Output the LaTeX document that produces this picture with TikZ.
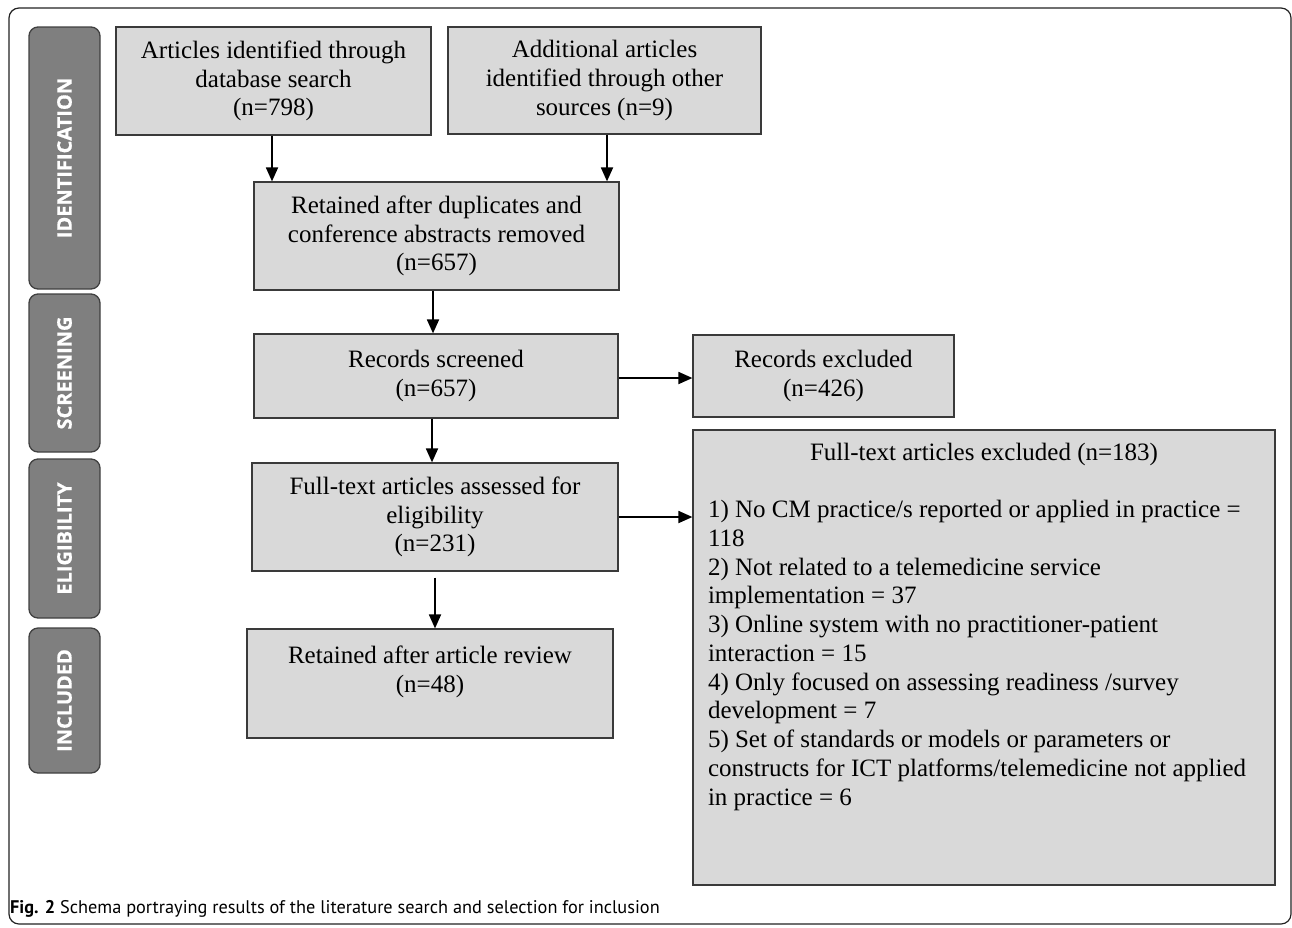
\documentclass[tikz,border=0pt]{standalone}
\usepackage{fontspec}
\setmainfont{Liberation Serif}
\newfontfamily\barfont{Open Sans}[BoldFeatures={FakeBold=0.7}]
\newfontfamily\capfont{PT Sans}
\usetikzlibrary{arrows.meta}
\definecolor{boxfill}{HTML}{D9D9D9}
\definecolor{boxline}{HTML}{3A3A3A}
\definecolor{barfill}{HTML}{7F7F7F}
\definecolor{barline}{HTML}{404040}
\definecolor{framecol}{HTML}{222222}
\tikzset{
  box/.style={draw=boxline, fill=boxfill, line width=1.2pt, inner sep=0pt, align=center,
    font=\fontsize{25}{28.75}\selectfont},
  phase/.style={draw=barline, fill=barfill, line width=1.3pt, rounded corners=9pt, inner sep=0pt,
    minimum width=71pt, text=white, font=\barfont\bfseries\fontsize{20}{24}\selectfont},
  flow/.style={draw=black, line width=1.8pt, -{Triangle[length=14pt,width=12pt]}},
}
\begin{document}
\begin{tikzpicture}[x=1pt,y=-1pt]
\useasboundingbox (0,0) rectangle (1292,927);
% outer frame
\draw[framecol, line width=1.2pt, rounded corners=10pt] (9,8) rectangle (1291,924);
% phase bars
\node[phase, minimum height=262pt] (p1) at (64.5,158) {\rotatebox{90}{IDENTIFICATION}};
\node[phase, minimum height=158pt] (p2) at (64.5,373) {\rotatebox{90}{SCREENING}};
\node[phase, minimum height=159pt] (p3) at (64.5,538.5) {\rotatebox{90}{ELIGIBILITY}};
\node[phase, minimum height=145pt] (p4) at (64.5,700.5) {\rotatebox{90}{INCLUDED}};
% boxes
\node[box, minimum width=315pt, minimum height=108pt] (A) at (273.5,81)
  {Articles identified through\\database search\\(n=798)};
\node[box, minimum width=313pt, minimum height=107pt] (B) at (604.5,80.5)
  {Additional articles\\identified through other\\sources (n=9)};
\node[box, minimum width=365pt, minimum height=108pt] (C) at (436.5,236)
  {Retained after duplicates and\\conference abstracts removed\\(n=657)};
\node[box, minimum width=364pt, minimum height=84pt] (D) at (436,376)
  {Records screened\\(n=657)};
\node[box, minimum width=261pt, minimum height=82pt] (E) at (823.5,376)
  {Records excluded\\(n=426)};
\node[box, minimum width=366pt, minimum height=108pt] (F) at (435,517)
  {Full-text articles assessed for\\eligibility\\(n=231)};
\node[box, minimum width=366pt, minimum height=109pt] (G) at (430,683.5)
  {Retained after article review\\(n=48)\\\mbox{}};
\node[box, minimum width=582pt, minimum height=455pt] (H) at (984,657.5)
  {\parbox[c][455pt][t]{552pt}{\centering\rule{0pt}{30pt}Full-text articles excluded (n=183)\par
   \mbox{}\par
   \raggedright
   1) No CM practice/s reported or applied in practice =\\
   118\\
   2) Not related to a telemedicine service\\
   implementation = 37\\
   3) Online system with no practitioner-patient\\
   interaction = 15\\
   4) Only focused on assessing readiness /survey\\
   development = 7\\
   5) Set of standards or models or parameters or\\
   constructs for ICT platforms/telemedicine not applied\\
   in practice = 6\par}};
% connectors
\draw[flow] ([xshift=-1.5pt]A.south) -- ([xshift=-1.5pt]A.south |- C.north);
\draw[flow] ([xshift=2.5pt]B.south) -- ([xshift=2.5pt]B.south |- C.north);
\draw[flow] ([xshift=-3.5pt]C.south) -- ([xshift=-3.5pt]C.south |- D.north);
\draw[flow] ([xshift=-4pt]D.south) -- ([xshift=-4pt]D.south |- F.north);
\draw[flow] ([yshift=-6pt]F.south) -- (F.south |- G.north);
\draw[flow] ([yshift=-2pt]D.east) -- ([yshift=-2pt]D.east -| E.west);
\draw[flow] (F.east) -- (F.east -| H.west);
% caption
\node[anchor=base west, inner sep=0pt, font=\capfont\fontsize{18.3}{21}\selectfont] (cap) at (10,913)
  {\textbf{Fig. 2} Schema portraying results of the literature search and selection for inclusion};
\end{tikzpicture}
\end{document}
